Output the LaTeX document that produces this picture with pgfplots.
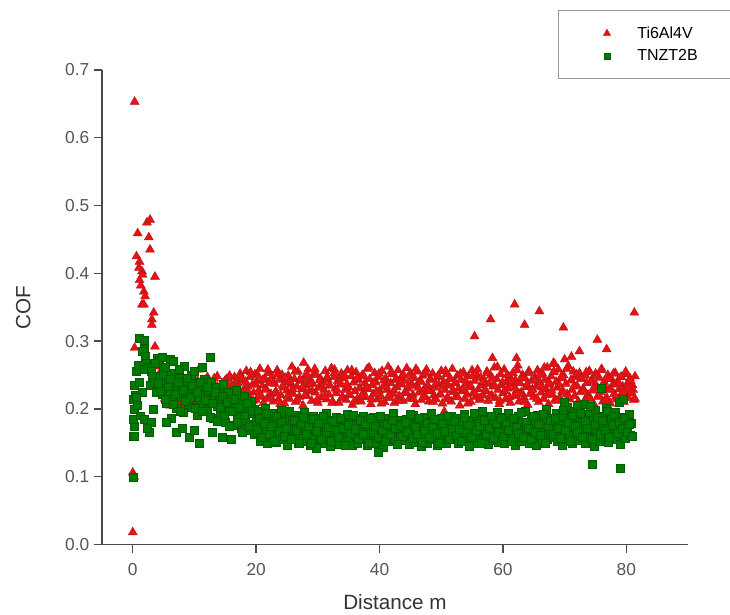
\documentclass[border=0pt]{standalone}
\usepackage{pgfplots}
\pgfplotsset{compat=1.18}
\usepackage{fontspec}
\setmainfont{Liberation Sans}
\definecolor{rfill}{RGB}{232,18,18}
\definecolor{rdraw}{RGB}{175,20,28}
\definecolor{gfill}{RGB}{0,122,0}
\definecolor{gdraw}{RGB}{0,92,0}
\definecolor{axgray}{RGB}{75,75,75}
\definecolor{tkgray}{RGB}{85,85,85}
\begin{document}
\begin{tikzpicture}
\begin{axis}[
  at={(0,0)}, anchor=south west,
  scale only axis, width=440pt, height=356.25pt,
  xmin=-5, xmax=90, ymin=0, ymax=0.7,
  axis lines*=left,
  axis line style={axgray, line width=1.3pt},
  xtick={0,20,40,60,80},
  ytick={0,0.1,0.2,0.3,0.4,0.5,0.6,0.7},
  tick align=outside, major tick length=6pt,
  tick style={axgray, line width=1.1pt},
  /pgf/number format/assume math mode=true,
  yticklabel style={/pgf/number format/fixed, /pgf/number format/fixed zerofill, /pgf/number format/precision=1},
  ticklabel style={font=\fontsize{13}{15}\selectfont, text=tkgray},
  xticklabel style={yshift=-5pt},
  xlabel={Distance m}, ylabel={COF},
  label style={font=\fontsize{15.5}{18}\selectfont, text=black!80},
  xlabel style={yshift=-7pt},
  ylabel style={yshift=19pt},
  legend style={at={(axis description cs:0.7785,1.126)}, anchor=north west,
    draw=gray!80, line width=0.6pt, font=\fontsize{12}{14}\selectfont,
    inner xsep=25pt, inner ysep=10pt, row sep=3pt},
  legend cell align=left,
  legend image code/.code={\path (-11pt,0) (20.5pt,0); \draw[#1] plot coordinates {(0pt,0pt)};},
]
\addplot[only marks, mark=triangle*, mark size=3.9pt, mark options={fill=rfill, draw=rdraw, line width=0.3pt}, legend image post style={mark size=3.1pt}] coordinates {
(0.0,0.018) (0.0,0.106) (0.2,0.100) (0.3,0.290) (0.3,0.653) (0.8,0.459) (0.6,0.425) (1.1,0.417) (1.5,0.403) (1.1,0.390) (1.8,0.373) (1.5,0.354) (2.0,0.366) (1.8,0.354) (2.3,0.475) (2.8,0.479) (2.6,0.453) (2.8,0.435) (3.6,0.395) (3.4,0.342) (3.1,0.332) (3.1,0.324) (3.6,0.292) (1.3,0.382) (1.6,0.398) (1.0,0.408) (3.9,0.263)
(4.0,0.263) (4.2,0.245) (4.5,0.228) (4.7,0.252) (5.0,0.238) (5.2,0.215) (5.5,0.244) (5.7,0.226) (6.0,0.205) (6.2,0.236) (6.5,0.249) (6.7,0.218) (7.0,0.232) (7.2,0.210) (7.5,0.241) (7.7,0.224) (8.0,0.200) (8.2,0.230) (8.5,0.215) (8.7,0.238) (9.0,0.222) (9.2,0.205) (9.5,0.228) (9.7,0.212) (10.0,0.235) (10.2,0.219) (10.7,0.258) (10.7,0.208) (11.0,0.226) (11.2,0.214) (11.5,0.232) (11.7,0.201) (12.0,0.221) (12.2,0.240) (12.5,0.212) (12.7,0.228) (13.0,0.218) (13.2,0.245) (13.5,0.207) (13.7,0.233) (14.0,0.222) (14.2,0.212) (14.5,0.238) (14.7,0.226) (15.0,0.215) (15.2,0.244) (15.5,0.230) (15.7,0.209) (16.0,0.236) (16.2,0.221) (16.5,0.247) (16.7,0.213)
(4.1,0.240) (4.5,0.255) (4.9,0.221) (5.3,0.247) (5.7,0.236) (6.1,0.219) (6.5,0.228) (6.9,0.243) (7.3,0.221) (7.7,0.235) (8.1,0.213) (8.5,0.244) (8.9,0.226) (9.3,0.236) (9.7,0.218) (10.1,0.229) (10.5,0.242) (10.9,0.211) (11.3,0.236) (11.7,0.224) (12.1,0.247) (12.5,0.219) (12.9,0.233) (13.3,0.226) (13.7,0.248) (14.1,0.214) (14.5,0.229) (14.9,0.241) (15.3,0.219) (15.7,0.249) (16.1,0.227) (16.5,0.237) (16.9,0.216)
(17.0,0.238) (17.2,0.221) (17.4,0.252) (17.6,0.210) (17.8,0.243) (18.0,0.229) (18.2,0.215) (18.4,0.256) (18.6,0.233) (18.8,0.219) (19.0,0.247) (19.2,0.206) (19.4,0.236) (19.6,0.224) (19.8,0.251) (20.0,0.213) (20.2,0.241) (20.4,0.227) (20.6,0.259) (20.8,0.218) (21.0,0.234) (21.2,0.209) (21.4,0.245) (21.6,0.230) (21.8,0.216) (22.0,0.253) (22.2,0.239) (22.4,0.222) (22.6,0.248) (22.8,0.211) (23.0,0.237) (23.2,0.226) (23.4,0.257) (23.6,0.214) (23.8,0.243) (24.0,0.220) (24.2,0.250) (24.4,0.231) (24.6,0.208) (24.8,0.240)
(25.0,0.227) (25.2,0.249) (25.4,0.215) (25.6,0.236) (25.8,0.262) (26.0,0.222) (26.2,0.244) (26.4,0.210) (26.6,0.233) (26.8,0.255) (27.0,0.218) (27.2,0.241) (27.4,0.229) (27.6,0.205) (27.8,0.246) (28.0,0.235) (28.2,0.219) (28.4,0.258) (28.6,0.226) (28.8,0.242) (29.0,0.212) (29.2,0.237) (29.4,0.252) (29.6,0.224) (29.8,0.250) (30.0,0.209) (30.2,0.232) (30.4,0.245) (30.6,0.217) (30.8,0.239) (31.0,0.228) (31.2,0.256) (31.4,0.214) (31.6,0.243) (31.8,0.221) (32.0,0.234) (32.2,0.260) (32.4,0.211) (32.6,0.247) (32.8,0.230) (27.7,0.268) (32.7,0.258)
(33.0,0.223) (33.2,0.241) (33.4,0.209) (33.6,0.236) (33.8,0.252) (34.0,0.218) (34.2,0.245) (34.4,0.228) (34.6,0.213) (34.8,0.257) (35.0,0.232) (35.2,0.220) (35.4,0.248) (35.6,0.206) (35.8,0.239) (36.0,0.226) (36.2,0.254) (36.4,0.215) (36.6,0.243) (36.8,0.231) (37.0,0.211) (37.2,0.250) (37.4,0.224) (37.6,0.238) (37.8,0.217) (38.0,0.259) (38.2,0.229) (38.4,0.244) (38.6,0.207) (38.8,0.235) (39.0,0.222) (39.2,0.253) (39.4,0.240) (39.6,0.214) (39.8,0.247) (40.0,0.227) (40.2,0.219) (40.4,0.256) (40.6,0.233) (40.8,0.210)
(41.0,0.245) (41.2,0.228) (41.4,0.262) (41.6,0.216) (41.8,0.238) (42.0,0.251) (42.2,0.222) (42.4,0.209) (42.6,0.243) (42.8,0.232) (43.0,0.257) (43.2,0.219) (43.4,0.236) (43.6,0.248) (43.8,0.212) (44.0,0.241) (44.2,0.226) (44.4,0.260) (44.6,0.230) (44.8,0.215) (45.0,0.253) (45.2,0.237) (45.4,0.221) (45.6,0.246) (45.8,0.207) (46.0,0.234) (46.2,0.255) (46.4,0.224) (46.6,0.242) (46.8,0.213) (47.0,0.249) (47.2,0.229) (47.4,0.218) (47.6,0.258) (47.8,0.235) (48.0,0.211) (48.2,0.244) (48.4,0.227) (48.6,0.252) (48.8,0.220)
(49.0,0.231) (49.2,0.214) (49.4,0.247) (49.6,0.236) (49.8,0.222) (50.0,0.256) (50.2,0.208) (50.4,0.240) (50.6,0.228) (50.8,0.251) (51.0,0.217) (51.2,0.234) (51.4,0.245) (51.6,0.211) (51.8,0.259) (52.0,0.225) (52.2,0.238) (52.4,0.219) (52.6,0.249) (52.8,0.230) (53.0,0.205) (53.2,0.243) (53.4,0.226) (53.6,0.254) (53.8,0.215) (54.0,0.237) (54.2,0.221) (54.4,0.248) (54.6,0.232) (54.8,0.210) (55.0,0.257) (55.2,0.224) (55.4,0.241) (55.6,0.218) (55.8,0.250) (56.0,0.229) (56.2,0.213) (56.4,0.246) (56.6,0.235) (56.8,0.220) (50.5,0.196)
(57.0,0.242) (57.2,0.226) (57.4,0.255) (57.6,0.212) (57.8,0.237) (58.0,0.249) (58.2,0.220) (58.4,0.233) (58.6,0.261) (58.8,0.216) (59.0,0.244) (59.2,0.228) (59.4,0.207) (59.6,0.251) (59.8,0.235) (60.0,0.223) (60.2,0.258) (60.4,0.214) (60.6,0.240) (60.8,0.230) (61.0,0.247) (61.2,0.209) (61.4,0.236) (61.6,0.253) (61.8,0.219) (62.0,0.243) (62.2,0.227) (62.4,0.264) (62.6,0.211) (62.8,0.238) (63.0,0.225) (63.2,0.250) (63.4,0.217) (63.6,0.245) (63.8,0.232) (64.0,0.206) (64.2,0.256) (64.4,0.222) (64.6,0.241) (64.8,0.229)
(65.0,0.218) (65.2,0.246) (65.4,0.233) (65.6,0.257) (65.8,0.210) (66.0,0.239) (66.2,0.224) (66.4,0.252) (66.6,0.215) (66.8,0.243) (67.0,0.229) (67.2,0.261) (67.4,0.207) (67.6,0.236) (67.8,0.248) (68.0,0.221) (68.2,0.254) (68.4,0.213) (68.6,0.240) (68.8,0.231) (69.0,0.258) (69.2,0.217) (69.4,0.245) (69.6,0.226) (69.8,0.250) (70.0,0.209) (70.2,0.237) (70.4,0.222) (70.6,0.263) (70.8,0.214) (71.0,0.242) (71.2,0.228) (71.4,0.255) (71.6,0.219) (71.8,0.247) (72.0,0.234) (72.2,0.211) (72.4,0.253) (72.6,0.225) (72.8,0.244)
(73.0,0.230) (73.2,0.212) (73.4,0.249) (73.6,0.238) (73.8,0.221) (74.0,0.256) (74.2,0.215) (74.4,0.243) (74.6,0.227) (74.8,0.206) (75.0,0.252) (75.2,0.234) (75.4,0.218) (75.6,0.246) (75.8,0.225) (76.0,0.259) (76.2,0.211) (76.4,0.240) (76.6,0.232) (76.8,0.217) (77.0,0.250) (77.2,0.228) (77.4,0.208) (77.6,0.244) (77.8,0.236) (78.0,0.222) (78.2,0.253) (78.4,0.214) (78.6,0.241) (78.8,0.229) (79.0,0.219) (79.2,0.247) (79.4,0.233) (79.6,0.210) (79.8,0.251) (80.0,0.226) (80.2,0.238) (80.4,0.216) (80.6,0.245) (80.8,0.223) (81.0,0.235) (81.2,0.213) (81.4,0.248)
(17.1,0.231) (17.5,0.246) (17.9,0.217) (18.3,0.240) (18.7,0.225) (19.1,0.254) (19.5,0.212) (19.9,0.236) (20.3,0.249) (20.7,0.221)
(21.1,0.243) (21.5,0.228) (21.9,0.258) (22.3,0.215) (22.7,0.238) (23.1,0.223) (23.5,0.251) (23.9,0.207) (24.3,0.234) (24.7,0.246)
(25.1,0.219) (25.5,0.240) (25.9,0.229) (26.3,0.255) (26.7,0.213) (27.1,0.244) (27.5,0.232) (27.9,0.220) (28.3,0.250) (28.7,0.237)
(29.1,0.226) (29.5,0.259) (29.9,0.214) (30.3,0.242) (30.7,0.231) (31.1,0.218) (31.5,0.247) (31.9,0.235) (32.3,0.209) (32.7,0.253)
(33.1,0.228) (33.5,0.241) (33.9,0.216) (34.3,0.250) (34.7,0.236) (35.1,0.222) (35.5,0.257) (35.9,0.211) (36.3,0.244) (36.7,0.230)
(37.1,0.219) (37.5,0.248) (37.9,0.233) (38.3,0.261) (38.7,0.214) (39.1,0.239) (39.5,0.226) (39.9,0.252) (40.3,0.208) (40.7,0.242)
(41.1,0.233) (41.5,0.220) (41.9,0.255) (42.3,0.227) (42.7,0.245) (43.1,0.212) (43.5,0.238) (43.9,0.250) (44.3,0.223) (44.7,0.234)
(45.1,0.246) (45.5,0.215) (45.9,0.259) (46.3,0.231) (46.7,0.240) (47.1,0.218) (47.5,0.252) (47.9,0.226) (48.3,0.243) (48.7,0.210)
(49.1,0.237) (49.5,0.249) (49.9,0.221) (50.3,0.233) (50.7,0.256) (51.1,0.214) (51.5,0.244) (51.9,0.228) (52.3,0.239) (52.7,0.217)
(53.1,0.252) (53.5,0.230) (53.9,0.242) (54.3,0.208) (54.7,0.235) (55.1,0.248) (55.5,0.223) (55.9,0.258) (56.3,0.216) (56.7,0.240)
(57.1,0.229) (57.5,0.253) (57.9,0.219) (58.3,0.245) (58.7,0.234) (59.1,0.262) (59.5,0.212) (59.9,0.239) (60.3,0.226) (60.7,0.250)
(61.1,0.217) (61.5,0.241) (61.9,0.231) (62.3,0.257) (62.7,0.222) (63.1,0.246) (63.5,0.210) (63.9,0.236) (64.3,0.253) (64.7,0.228)
(65.1,0.243) (65.5,0.215) (65.9,0.250) (66.3,0.232) (66.7,0.261) (67.1,0.220) (67.5,0.239) (67.9,0.227) (68.3,0.255) (68.7,0.212)
(69.1,0.236) (69.5,0.248) (69.9,0.224) (70.3,0.259) (70.7,0.218) (71.1,0.242) (71.5,0.233) (71.9,0.251) (72.3,0.209) (72.7,0.245)
(73.1,0.227) (73.5,0.254) (73.9,0.216) (74.3,0.240) (74.7,0.231) (75.1,0.249) (75.5,0.221) (75.9,0.257) (76.3,0.235) (76.7,0.213)
(77.1,0.244) (77.5,0.229) (77.9,0.252) (78.3,0.218) (78.7,0.238) (79.1,0.247) (79.5,0.224) (79.9,0.255) (80.3,0.232) (80.7,0.241) (81.1,0.228)
(55.4,0.307) (58.0,0.332) (61.9,0.354) (63.5,0.324) (65.9,0.344) (69.8,0.320) (58.3,0.275) (62.2,0.275) (68.2,0.268) (68.4,0.266) (70.0,0.273) (71.1,0.277) (72.4,0.285) (75.3,0.302) (76.8,0.288) (81.3,0.342) (81.4,0.215) (80.8,0.225)
};
\addlegendentry{Ti6Al4V}
\addplot[only marks, mark=square*, mark size=3pt, mark options={fill=gfill, draw=gdraw, line width=0.3pt}, legend image post style={mark size=2.3pt}] coordinates {
(0.0,0.100) (0.1,0.160) (0.2,0.175) (0.0,0.185) (0.3,0.200) (0.1,0.215) (0.4,0.220) (0.2,0.235) (0.6,0.255) (1.1,0.305) (1.8,0.302) (1.9,0.288) (0.9,0.265) (1.5,0.285) (2.0,0.278) (2.2,0.268) (2.5,0.262) (1.8,0.258) (1.0,0.240) (1.6,0.225) (0.6,0.217) (0.8,0.205) (1.2,0.190) (1.8,0.185) (2.6,0.165) (3.0,0.255) (3.2,0.248) (2.8,0.235) (3.5,0.240) (3.8,0.225) (4.0,0.275) (4.3,0.272) (3.3,0.200) (3.0,0.180) (2.4,0.172) (0.3,0.160) (3.6,0.268)
(4.5,0.248) (4.7,0.222) (5.0,0.259) (5.2,0.231) (5.5,0.209) (5.7,0.243) (6.0,0.226) (6.2,0.252) (6.5,0.214) (6.7,0.237) (7.0,0.201) (7.2,0.229) (7.5,0.246) (7.7,0.218) (8.0,0.234) (8.2,0.195) (8.5,0.224) (8.7,0.241) (9.0,0.210) (9.2,0.228) (9.5,0.250) (9.7,0.203) (10.0,0.219) (10.2,0.236) (10.5,0.190) (10.7,0.214) (11.0,0.231) (11.2,0.206) (11.5,0.244) (11.7,0.221) (12.0,0.198) (12.2,0.227) (12.5,0.211) (12.7,0.239) (13.0,0.186) (13.2,0.216) (13.5,0.232) (13.7,0.204) (14.0,0.222) (14.2,0.193) (14.5,0.213) (14.7,0.237) (15.0,0.180) (15.2,0.207) (15.5,0.224) (15.7,0.196) (16.0,0.215) (16.2,0.176) (16.5,0.201) (16.7,0.228) (17.0,0.189) (17.2,0.210) (17.5,0.172) (17.7,0.198) (18.0,0.219) (18.2,0.184) (18.5,0.205) (18.7,0.168) (19.0,0.193) (19.2,0.212) (19.5,0.178) (19.7,0.200)
(4.1,0.238) (4.5,0.226) (4.9,0.251) (5.3,0.215) (5.7,0.233) (6.1,0.244) (6.5,0.207) (6.9,0.221) (7.3,0.239) (7.7,0.196) (8.1,0.227) (8.5,0.212) (8.9,0.246) (9.3,0.218) (9.7,0.233) (10.1,0.201) (10.5,0.225) (10.9,0.240) (11.3,0.197) (11.7,0.213) (12.1,0.232) (12.5,0.188) (12.9,0.209) (13.3,0.225) (13.7,0.182) (14.1,0.203) (14.5,0.219) (14.9,0.190) (15.3,0.210) (15.7,0.175) (16.1,0.196) (16.5,0.214) (16.9,0.181) (17.3,0.202) (17.7,0.166) (18.1,0.190) (18.5,0.208) (18.9,0.175) (19.3,0.196) (19.7,0.162)
(4.7,0.276) (6.0,0.273) (6.6,0.270) (8.4,0.263) (12.5,0.276) (11.2,0.261) (6.3,0.187) (7.1,0.165) (9.2,0.159) (10.8,0.150) (12.8,0.165) (5.5,0.180) (8.0,0.172) (10.0,0.168) (14.5,0.158) (16.0,0.155) (5.2,0.262) (7.6,0.258) (9.9,0.255)
(20.0,0.182) (20.2,0.165) (20.4,0.196) (20.6,0.153) (20.8,0.174) (21.0,0.188) (21.2,0.160) (21.4,0.201) (21.6,0.170) (21.8,0.149) (22.0,0.185) (22.2,0.177) (22.4,0.158) (22.6,0.193) (22.8,0.166) (23.0,0.180) (23.2,0.151) (23.4,0.190) (23.6,0.172) (23.8,0.162) (24.0,0.198) (24.2,0.156) (24.4,0.179) (24.6,0.168) (24.8,0.187) (25.0,0.147) (25.2,0.175) (25.4,0.194) (25.6,0.161) (25.8,0.183) (26.0,0.169) (26.2,0.155) (26.4,0.191) (26.6,0.173) (26.8,0.150) (27.0,0.186) (27.2,0.164) (27.4,0.178) (27.6,0.157) (27.8,0.195)
(28.0,0.171) (28.2,0.152) (28.4,0.184) (28.6,0.163) (28.8,0.146) (29.0,0.179) (29.2,0.190) (29.4,0.158) (29.6,0.168) (29.8,0.142) (30.0,0.176) (30.2,0.187) (30.4,0.155) (30.6,0.166) (30.8,0.181) (31.0,0.149) (31.2,0.173) (31.4,0.193) (31.6,0.160) (31.8,0.170) (32.0,0.145) (32.2,0.183) (32.4,0.162) (32.6,0.175) (32.8,0.154) (33.0,0.188) (33.2,0.167) (33.4,0.148) (33.6,0.178) (33.8,0.159) (34.0,0.185) (34.2,0.169) (34.4,0.151) (34.6,0.174) (34.8,0.192) (35.0,0.157) (35.2,0.165) (35.4,0.180) (35.6,0.147) (35.8,0.172)
(36.0,0.161) (36.2,0.178) (36.4,0.150) (36.6,0.186) (36.8,0.168) (37.0,0.155) (37.2,0.174) (37.4,0.190) (37.6,0.159) (37.8,0.170) (38.0,0.146) (38.2,0.182) (38.4,0.165) (38.6,0.153) (38.8,0.176) (39.0,0.188) (39.2,0.162) (39.4,0.149) (39.6,0.172) (39.8,0.184) (40.0,0.157) (40.2,0.167) (40.4,0.180) (40.6,0.144) (40.8,0.175) (41.0,0.160) (41.2,0.187) (41.4,0.169) (41.6,0.152) (41.8,0.179) (42.0,0.164) (42.2,0.193) (42.4,0.156) (42.6,0.171) (42.8,0.148) (43.0,0.183) (43.2,0.166) (43.4,0.158) (43.6,0.177) (43.8,0.163) (39.8,0.136)
(44.0,0.173) (44.2,0.154) (44.4,0.185) (44.6,0.166) (44.8,0.148) (45.0,0.178) (45.2,0.160) (45.4,0.191) (45.6,0.169) (45.8,0.151) (46.0,0.176) (46.2,0.163) (46.4,0.182) (46.6,0.157) (46.8,0.145) (47.0,0.172) (47.2,0.188) (47.4,0.161) (47.6,0.168) (47.8,0.150) (48.0,0.180) (48.2,0.165) (48.4,0.194) (48.6,0.155) (48.8,0.174) (49.0,0.159) (49.2,0.183) (49.4,0.147) (49.6,0.170) (49.8,0.162) (50.0,0.186) (50.2,0.153) (50.4,0.177) (50.6,0.167) (50.8,0.149) (51.0,0.181) (51.2,0.158) (51.4,0.171) (51.6,0.190) (51.8,0.164)
(52.0,0.156) (52.2,0.175) (52.4,0.164) (52.6,0.187) (52.8,0.149) (53.0,0.170) (53.2,0.181) (53.4,0.158) (53.6,0.166) (53.8,0.192) (54.0,0.153) (54.2,0.177) (54.4,0.161) (54.6,0.145) (54.8,0.184) (55.0,0.169) (55.2,0.157) (55.4,0.173) (55.6,0.189) (55.8,0.150) (56.0,0.167) (56.2,0.179) (56.4,0.160) (56.6,0.196) (56.8,0.155) (57.0,0.172) (57.2,0.163) (57.4,0.185) (57.6,0.148) (57.8,0.176) (58.0,0.168) (58.2,0.154) (58.4,0.182) (58.6,0.162) (58.8,0.171) (59.0,0.195) (59.2,0.151) (59.4,0.178) (59.6,0.165) (59.8,0.188)
(60.0,0.167) (60.2,0.149) (60.4,0.180) (60.6,0.160) (60.8,0.193) (61.0,0.172) (61.2,0.155) (61.4,0.184) (61.6,0.163) (61.8,0.176) (62.0,0.146) (62.2,0.169) (62.4,0.189) (62.6,0.158) (62.8,0.174) (63.0,0.152) (63.2,0.181) (63.4,0.166) (63.6,0.197) (63.8,0.161) (64.0,0.178) (64.2,0.150) (64.4,0.170) (64.6,0.186) (64.8,0.157) (65.0,0.164) (65.2,0.179) (65.4,0.147) (65.6,0.191) (65.8,0.168) (66.0,0.159) (66.2,0.175) (66.4,0.153) (66.6,0.183) (66.8,0.165) (67.0,0.199) (67.2,0.156) (67.4,0.173) (67.6,0.162) (67.8,0.187)
(68.0,0.158) (68.2,0.179) (68.4,0.170) (68.6,0.194) (68.8,0.152) (69.0,0.185) (69.2,0.164) (69.4,0.176) (69.6,0.147) (69.8,0.189) (70.0,0.167) (70.2,0.156) (70.4,0.202) (70.6,0.173) (70.8,0.161) (71.0,0.183) (71.2,0.150) (71.4,0.177) (71.6,0.196) (71.8,0.165) (72.0,0.171) (72.2,0.154) (72.4,0.188) (72.6,0.160) (72.8,0.181) (73.0,0.168) (73.2,0.207) (73.4,0.149) (73.6,0.175) (73.8,0.163) (74.0,0.192) (74.2,0.157) (74.4,0.184) (74.6,0.170) (74.8,0.145) (75.0,0.198) (75.2,0.166) (75.4,0.179) (75.6,0.153) (75.8,0.186)
(76.0,0.172) (76.2,0.158) (76.4,0.190) (76.6,0.165) (76.8,0.201) (77.0,0.151) (77.2,0.178) (77.4,0.169) (77.6,0.186) (77.8,0.160) (78.0,0.174) (78.2,0.195) (78.4,0.155) (78.6,0.181) (78.8,0.167) (79.0,0.148) (79.2,0.188) (79.4,0.163) (79.6,0.176) (79.8,0.157) (80.0,0.183) (80.2,0.170) (80.4,0.192) (80.6,0.161) (80.8,0.179)
(20.1,0.170) (20.5,0.186) (20.9,0.158) (21.3,0.179) (21.7,0.193) (22.1,0.163) (22.5,0.175) (22.9,0.152) (23.3,0.189) (23.7,0.167)
(24.1,0.181) (24.5,0.160) (24.9,0.172) (25.3,0.196) (25.7,0.155) (26.1,0.184) (26.5,0.169) (26.9,0.149) (27.3,0.177) (27.7,0.188)
(28.1,0.162) (28.5,0.174) (28.9,0.150) (29.3,0.185) (29.7,0.167) (30.1,0.179) (30.5,0.156) (30.9,0.190) (31.3,0.165) (31.7,0.173)
(32.1,0.153) (32.5,0.182) (32.9,0.168) (33.3,0.158) (33.7,0.187) (34.1,0.171) (34.5,0.147) (34.9,0.176) (35.3,0.164) (35.7,0.191)
(36.1,0.170) (36.5,0.155) (36.9,0.183) (37.3,0.162) (37.7,0.177) (38.1,0.150) (38.5,0.186) (38.9,0.166) (39.3,0.174) (39.7,0.159)
(40.1,0.189) (40.5,0.168) (40.9,0.153) (41.3,0.178) (41.7,0.163) (42.1,0.184) (42.5,0.171) (42.9,0.148) (43.3,0.176) (43.7,0.160)
(44.1,0.181) (44.5,0.165) (44.9,0.192) (45.3,0.157) (45.7,0.173) (46.1,0.162) (46.5,0.187) (46.9,0.151) (47.3,0.169) (47.7,0.179)
(48.1,0.159) (48.5,0.174) (48.9,0.185) (49.3,0.164) (49.7,0.149) (50.1,0.178) (50.5,0.167) (50.9,0.190) (51.3,0.156) (51.7,0.172)
(52.1,0.182) (52.5,0.161) (52.9,0.170) (53.3,0.153) (53.7,0.188) (54.1,0.166) (54.5,0.176) (54.9,0.158) (55.3,0.193) (55.7,0.168)
(56.1,0.175) (56.5,0.150) (56.9,0.184) (57.3,0.163) (57.7,0.172) (58.1,0.190) (58.5,0.157) (58.9,0.179) (59.3,0.166) (59.7,0.186)
(60.1,0.160) (60.5,0.178) (60.9,0.169) (61.3,0.152) (61.7,0.187) (62.1,0.173) (62.5,0.164) (62.9,0.195) (63.3,0.158) (63.7,0.181)
(64.1,0.171) (64.5,0.155) (64.9,0.189) (65.3,0.166) (65.7,0.177) (66.1,0.161) (66.5,0.192) (66.9,0.150) (67.3,0.174) (67.7,0.183)
(68.1,0.163) (68.5,0.186) (68.9,0.172) (69.3,0.157) (69.7,0.198) (70.1,0.168) (70.5,0.180) (70.9,0.153) (71.3,0.190) (71.7,0.175)
(72.1,0.165) (72.5,0.194) (72.9,0.159) (73.3,0.182) (73.7,0.171) (74.1,0.204) (74.5,0.156) (74.9,0.178) (75.3,0.188) (75.7,0.162)
(76.1,0.184) (76.5,0.169) (76.9,0.197) (77.3,0.158) (77.7,0.176) (78.1,0.190) (78.5,0.164) (78.9,0.181) (79.3,0.172) (79.7,0.186)
(80.1,0.166) (80.5,0.178) (80.9,0.160)
(74.5,0.118) (79.0,0.112) (76.0,0.231) (78.9,0.210) (72.0,0.205) (70.0,0.210) (79.5,0.215)
};
\addlegendentry{TNZT2B}
\end{axis}
\pgfresetboundingbox
\path[use as bounding box] (-76.5pt,-52.5pt) rectangle (471.5pt,408.75pt);
\end{tikzpicture}
\end{document}
